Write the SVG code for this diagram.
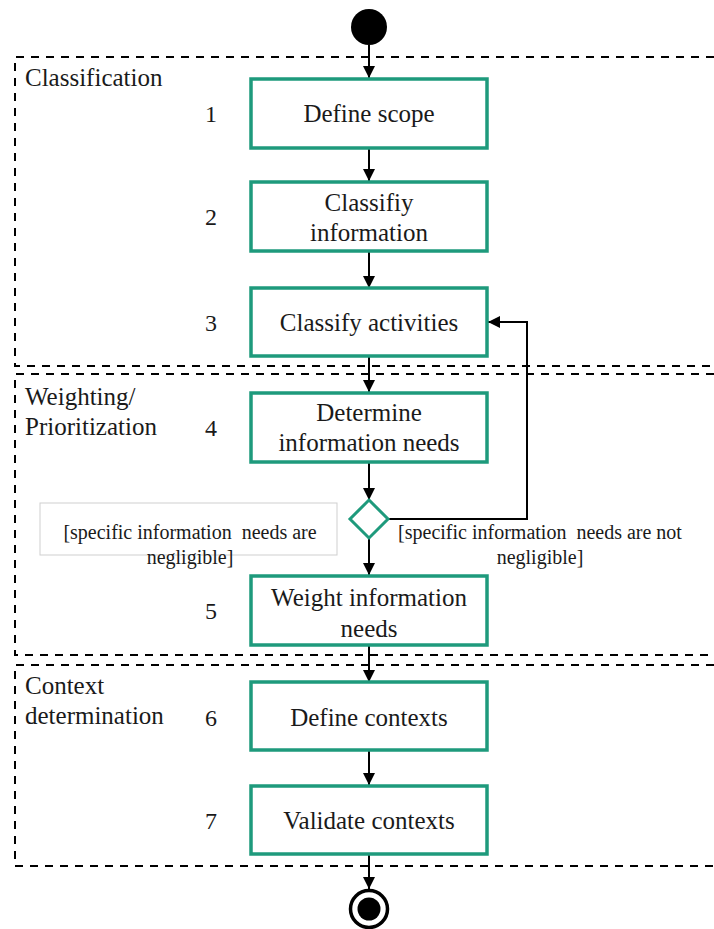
<svg xmlns="http://www.w3.org/2000/svg" width="714" height="929" viewBox="0 0 714 929">
<defs>
<marker id="arr" viewBox="0 0 12 12" refX="12" refY="6" markerWidth="12" markerHeight="12" markerUnits="userSpaceOnUse" orient="auto">
<path d="M0,0 L12,6 L0,12 Z" fill="#000"/>
</marker>
</defs>
<style>
.sec{fill:none;stroke:#000;stroke-width:2;stroke-dasharray:8 7}
.box{fill:#fff;stroke:#1e9a7c;stroke-width:3.5}
.t{font-family:"Liberation Serif","Times New Roman",serif;font-size:25px;fill:#1a1a1a;text-anchor:middle}
.l{font-family:"Liberation Serif","Times New Roman",serif;font-size:25px;fill:#1a1a1a}
.n{font-family:"Liberation Serif","Times New Roman",serif;font-size:24px;fill:#1a1a1a;text-anchor:middle}
.g{font-family:"Liberation Serif","Times New Roman",serif;font-size:20px;fill:#1a1a1a;text-anchor:middle;white-space:pre}
.c{fill:none;stroke:#000;stroke-width:2}
</style>
<g id="sections">
<path class="sec" d="M714,57 H15 V366 H714"/>
<path class="sec" d="M714,374 H15 V655 H714"/>
<path class="sec" d="M714,665 H15 V866 H714"/>
<text class="l" x="25" y="86">Classification</text>
<text class="l" x="25" y="405">Weighting/</text>
<text class="l" x="25" y="435">Prioritization</text>
<text class="l" x="25" y="694">Context</text>
<text class="l" x="25" y="724">determination</text>
</g>
<g id="numbers">
<text class="n" x="211" y="122">1</text>
<text class="n" x="211" y="225">2</text>
<text class="n" x="211" y="331">3</text>
<text class="n" x="211" y="436">4</text>
<text class="n" x="211" y="619">5</text>
<text class="n" x="211" y="726">6</text>
<text class="n" x="211" y="829">7</text>
</g>
<g id="connectors">
<line class="c" x1="369" y1="45" x2="369" y2="78" marker-end="url(#arr)"/>
<line class="c" x1="369" y1="148" x2="369" y2="181" marker-end="url(#arr)"/>
<line class="c" x1="369" y1="251" x2="369" y2="288" marker-end="url(#arr)"/>
<line class="c" x1="369" y1="356" x2="369" y2="392" marker-end="url(#arr)"/>
<line class="c" x1="369" y1="462" x2="369" y2="500" marker-end="url(#arr)"/>
<line class="c" x1="369" y1="537" x2="369" y2="575" marker-end="url(#arr)"/>
<line class="c" x1="369" y1="645" x2="369" y2="682" marker-end="url(#arr)"/>
<line class="c" x1="369" y1="750" x2="369" y2="785" marker-end="url(#arr)"/>
<line class="c" x1="369" y1="854" x2="369" y2="889" marker-end="url(#arr)"/>
<polyline class="c" points="388,519 527,519 527,322 488,322" marker-end="url(#arr)"/>
</g>
<g id="start"><circle cx="369" cy="27" r="18" fill="#000"/></g>
<g id="n1"><rect class="box" x="251" y="79" width="236" height="69"/><text class="t" x="369" y="122">Define scope</text></g>
<g id="n2"><rect class="box" x="251" y="182" width="236" height="69"/><text class="t" x="369" y="211">Classifiy</text><text class="t" x="369" y="241">information</text></g>
<g id="n3"><rect class="box" x="251" y="288" width="236" height="68"/><text class="t" x="369" y="331">Classify activities</text></g>
<g id="n4"><rect class="box" x="251" y="393" width="236" height="69"/><text class="t" x="369" y="421">Determine</text><text class="t" x="369" y="451">information needs</text></g>
<g id="decision"><polygon points="369,500 388,519 369,538 350,519" fill="#fff" stroke="#1e9a7c" stroke-width="3"/></g>
<g id="label-left"><rect x="40" y="503" width="297" height="52" fill="#fff" stroke="#cfcfcf" stroke-width="1"/><text class="g" x="190" y="539" xml:space="preserve">[specific information  needs are</text><text class="g" x="190" y="564">negligible]</text></g>
<g id="label-right"><text class="g" x="540" y="539" xml:space="preserve">[specific information  needs are not</text><text class="g" x="540" y="564">negligible]</text></g>
<g id="n5"><rect class="box" x="251" y="576" width="236" height="69"/><text class="t" x="369" y="606">Weight information</text><text class="t" x="369" y="637">needs</text></g>
<g id="n6"><rect class="box" x="251" y="682" width="236" height="68"/><text class="t" x="369" y="726">Define contexts</text></g>
<g id="n7"><rect class="box" x="251" y="786" width="236" height="68"/><text class="t" x="369" y="829">Validate contexts</text></g>
<g id="end"><circle cx="369" cy="909" r="18.5" fill="#fff" stroke="#000" stroke-width="3.5"/><circle cx="369" cy="909" r="11.5" fill="#000"/></g>
</svg>
